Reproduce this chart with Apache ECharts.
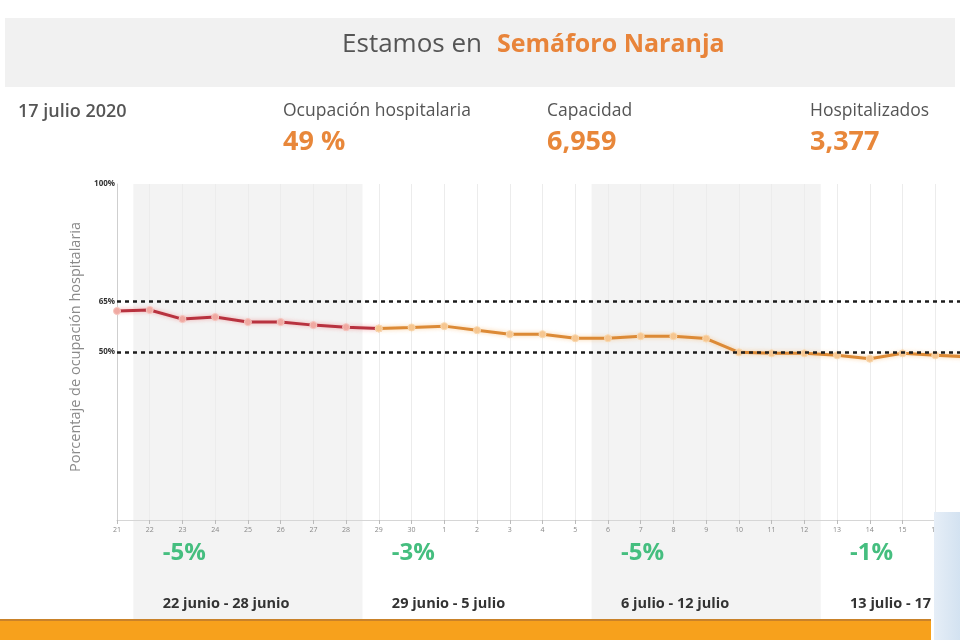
<!DOCTYPE html>
<html>
<head>
<meta charset="utf-8">
<script src="https://cdn.jsdelivr.net/npm/echarts@6/dist/echarts.min.js"></script>
<style>
html,body{margin:0;padding:0;background:#fff;}
#c{width:960px;height:640px;}
</style>
</head>
<body>
<div id="c"></div>
<script>
// ---- data ----
const categories = ['21','22','23','24','25','26','27','28','29','30','1','2','3','4','5','6','7','8','9','10','11','12','13','14','15','16','17'];
const occupancy = [62.2,62.5,59.8,60.4,58.9,58.9,58.0,57.4,57.0,57.3,57.7,56.5,55.3,55.3,54.1,54.1,54.7,54.7,54.0,49.9,49.6,49.6,49.0,48.0,49.6,49.0,48.6];
const redUntil = 8; // index of 29 junio: red part ends
const thresholds = [65, 50];
const yLabelValues = [100, 65, 50];
const weekLabels = ['22 junio - 28 junio','29 junio - 5 julio','6 julio - 12 julio','13 julio - 17'];
const weekChanges = ['-5%','-3%','-5%','-1%'];
const weekStart = [1, 8, 15, 22];
const weekEnd = [7, 14, 21, 26];
const weekShaded = [true, false, true, false];
const headerDate = '17 julio 2020';
const statTitles = ['Ocupación hospitalaria','Capacidad','Hospitalizados'];
const statValues = ['49 %','6,959','3,377'];

const RED = '#b8323f', ORANGE = '#dc8a36', FONT = '"Open Sans", sans-serif';

const redData = occupancy.map((v,i)=> i<=redUntil ? v : null);
const orangeData = occupancy.map((v,i)=> i>=redUntil ? v : null);

const chart = echarts.init(document.getElementById('c'), null, {renderer:'canvas'});

const headerGraphics = [
  {type:'rect', shape:{x:5,y:18,width:950,height:69}, style:{fill:'#f1f1f1'}, z:-20},
  {type:'text', x:482, y:45, style:{text:'Estamos en', font:'400 26px '+FONT, fill:'#555', align:'right', verticalAlign:'middle'}},
  {type:'text', x:497, y:45, style:{text:'Semáforo Naranja', font:'700 25px '+FONT, fill:'#e8843a', align:'left', verticalAlign:'middle'}},
  {type:'text', x:18, y:112, style:{text:headerDate, font:'600 18px '+FONT, fill:'#555', verticalAlign:'middle'}},
  {type:'rect', shape:{x:0,y:620,width:931,height:20}, style:{fill:'#f7a11c'}, z:5},
  {type:'rect', shape:{x:0,y:619,width:931,height:2}, style:{fill:'#c9822a'}, z:5},
  {type:'rect', shape:{x:934,y:512,width:26,height:128}, style:{fill:new echarts.graphic.LinearGradient(0,0,1,0,[{offset:0,color:'#e6eef7'},{offset:1,color:'#d3e2f1'}])}, z:6}
];
const statX = [283, 547, 810];
statTitles.forEach((t,i)=>{
  headerGraphics.push({type:'text', x:statX[i], y:111, style:{text:t, font:'400 17.5px '+FONT, fill:'#555', verticalAlign:'middle'}});
  headerGraphics.push({type:'text', x:statX[i], y:142, style:{text:statValues[i], font:'700 27px '+FONT, fill:'#e8873a', verticalAlign:'middle'}});
});

chart.setOption({
  animation:false,
  backgroundColor:'#fff',
  grid:{left:117, top:184, height:336, width:851, containLabel:false, outerBoundsMode:'none'},
  xAxis:{
    type:'category', data:categories, boundaryGap:false,
    axisLine:{lineStyle:{color:'#d6d6d6'}},
    axisTick:{show:true, length:4, lineStyle:{color:'#bbb'}, alignWithLabel:true},
    axisLabel:{fontSize:7, color:'#888', margin:6, interval:0, fontFamily:FONT},
    splitLine:{show:true, lineStyle:{color:'#ececec', width:1}}
  },
  yAxis:{
    type:'value', min:0, max:100, interval:5,
    name:'Porcentaje de ocupación hospitalaria', nameLocation:'middle', nameRotate:90, nameGap:22,
    nameTextStyle:{fontSize:14.5, color:'#8a8a8a', fontFamily:FONT, padding:[0,0,0,10]},
    axisLine:{show:true, lineStyle:{color:'#cfcfcf'}},
    axisTick:{show:false},
    splitLine:{show:false},
    axisLabel:{fontSize:8, fontWeight:'bold', color:'#333', margin:2, fontFamily:FONT,
      formatter:v=> yLabelValues.includes(v) ? v+'%' : ''}
  },
  graphic:headerGraphics,
  series:[
    {type:'line', data:redData, symbol:'circle', symbolSize:7, z:3,
      lineStyle:{color:RED, width:3, shadowColor:'rgba(240,120,120,0.6)', shadowBlur:4},
      itemStyle:{color:'#f0a9a2', borderColor:'#f6c6bf', borderWidth:1}},
    {type:'line', data:orangeData, symbol:'circle', symbolSize:7, z:4,
      lineStyle:{color:ORANGE, width:3, shadowColor:'rgba(250,190,120,0.7)', shadowBlur:4},
      itemStyle:{color:'#f6c690', borderColor:'#f9d9b0', borderWidth:1},
      markLine:{symbol:'none', silent:true, label:{show:false},
        lineStyle:{color:'#1e1e1e', type:[4,4], width:2.5},
        data:thresholds.map(t=>({yAxis:t}))}}
  ]
});

// week bands and annotations positioned through the axis scale
const px = i => chart.convertToPixel({xAxisIndex:0}, i);
const topY = chart.convertToPixel({yAxisIndex:0}, 100);
const extra = [];
weekStart.forEach((s,k)=>{
  const x0 = (px(s-1)+px(s))/2;
  const x1 = weekEnd[k] < categories.length-1 ? (px(weekEnd[k])+px(weekEnd[k]+1))/2 : px(weekEnd[k]);
  if (weekShaded[k]) {
    extra.push({type:'rect', shape:{x:x0, y:topY, width:x1-x0, height:620-topY}, style:{fill:'#f3f3f3'}, z:-10});
  }
  const lx = px(s) + 13;
  extra.push({type:'text', x:lx, y:553, style:{text:weekChanges[k], font:'700 24px '+FONT, fill:'#45be7f', verticalAlign:'middle'}});
  extra.push({type:'text', x:lx, y:604, style:{text:weekLabels[k], font:'700 14.5px '+FONT, fill:'#333', verticalAlign:'middle'}});
});
chart.setOption({graphic:headerGraphics.concat(extra)});
</script>
</body>
</html>
